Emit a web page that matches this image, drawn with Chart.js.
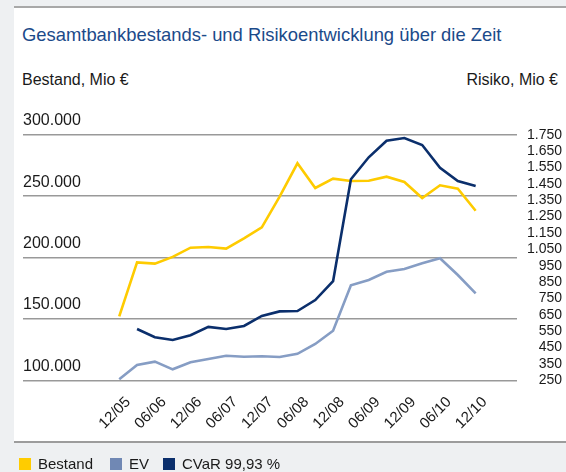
<!DOCTYPE html>
<html>
<head>
<meta charset="utf-8">
<script src="https://cdn.jsdelivr.net/npm/chart.js@4/dist/chart.umd.min.js"></script>
<style>
  html, body { margin: 0; padding: 0; }
  body { width: 566px; height: 472px; background: #eef0f2; position: relative; overflow: hidden;
         font-family: 'Liberation Sans', Arial, sans-serif; }
  #panel { position: absolute; left: 14px; top: 6px; width: 552px; height: 433px; background: #ffffff;
           border-top: 2px solid #a8a8a8; border-bottom: 2px solid #9c9c9c; }
  .txt { position: absolute; line-height: 1; white-space: nowrap; }
  #title { left: 22px; top: 26px; font-size: 18.4px; color: #1b4a8a; }
  #subL { left: 22px; top: 72px; font-size: 16px; color: #1a1a1a; }
  #subR { right: 8px; top: 72px; font-size: 16px; color: #1a1a1a; }
  .leg { position: absolute; top: 456px; height: 15px; display: flex; align-items: center; font-size: 15px; color: #1a1a1a; line-height: 1; }
  .leg span.box { display: inline-block; width: 12px; height: 12px; margin-right: 7px; }
  #chartWrap { position: absolute; left: 0; top: 0; width: 566px; height: 472px; }
</style>
</head>
<body>
<div id="panel"></div>
<div class="txt" id="title">Gesamtbankbestands- und Risikoentwicklung über die Zeit</div>
<div class="txt" id="subL">Bestand, Mio €</div>
<div class="txt" id="subR">Risiko, Mio €</div>
<div id="chartWrap"><canvas id="c" width="566" height="472"></canvas></div>
<div class="leg" style="left:19px"><span class="box" style="background:#ffcc00"></span>Bestand</div>
<div class="leg" style="left:110px"><span class="box" style="background:#7088b4"></span>EV</div>
<div class="leg" style="left:163px"><span class="box" style="background:#0b2f6c"></span>CVaR 99,93 %</div>
<script>
// ---- data ----
const quarters = ['12/05','03/06','06/06','09/06','12/06','03/07','06/07','09/07','12/07','03/08','06/08',
                  '09/08','12/08','03/09','06/09','09/09','12/09','03/10','06/10','09/10','12/10'];
const bestand = [152000,196000,195000,200500,208000,208500,207200,215600,224600,249500,276700,
                 256600,264200,262300,262500,265800,261500,248400,258800,256000,238100];
const ev      = [256,343,364,317,360,380,400,394,397,392,412,
                 472,553,830,863,913,930,965,995,893,781];
const cvar    = [null,563,513,496,525,576,563,582,643,671,673,
                 740,855,1478,1612,1713,1730,1687,1548,1467,1437];
const labelIdx = [0,2,4,6,8,10,12,14,16,18,20];
const leftTicks = [100000,150000,200000,250000,300000];
const rightTicks = [250,350,450,550,650,750,850,950,1050,1150,1250,1350,1450,1550,1650,1750];

function deFmt(v) {
  return String(Math.round(v)).replace(/\B(?=(\d{3})+(?!\d))/g, '.');
}
const toXY = arr => arr.map((v, i) => ({ x: i, y: v }));

Chart.defaults.font.family = "'Liberation Sans', Arial, sans-serif";
Chart.defaults.color = '#1a1a1a';

new Chart(document.getElementById('c'), {
  type: 'line',
  data: {
    datasets: [
      { label: 'CVaR 99,93 %', data: toXY(cvar), yAxisID: 'y1', borderColor: '#0b2f6c', borderWidth: 2.6,
        pointRadius: 0, tension: 0, spanGaps: false },
      { label: 'Bestand', data: toXY(bestand), yAxisID: 'y', borderColor: '#fecb00', borderWidth: 2.6,
        pointRadius: 0, tension: 0 },
      { label: 'EV', data: toXY(ev), yAxisID: 'y1', borderColor: '#869dc4', borderWidth: 2.6,
        pointRadius: 0, tension: 0 }
    ]
  },
  options: {
    responsive: false,
    animation: false,
    layout: { padding: { left: 3, right: 4, top: 134.7, bottom: 40 } },
    plugins: { legend: { display: false }, tooltip: { enabled: false }, title: { display: false } },
    scales: {
      x: {
        type: 'linear', min: -5.4, max: 22.32,
        grid: { display: false }, border: { display: false },
        afterBuildTicks: s => { s.ticks = labelIdx.map(v => ({ value: v })); },
        afterFit: s => { s.height = 51.7; },
        ticks: { autoSkip: false, minRotation: 45, maxRotation: 45, padding: 5, labelOffset: 9,
                 font: { size: 15 }, color: '#1a1a1a',
                 callback: v => quarters[v] }
      },
      y: {
        position: 'left', min: 100000, max: 300000,
        afterBuildTicks: s => { s.ticks = leftTicks.map(v => ({ value: v })); },
        afterFit: s => { s.width = 20; },
        grid: { color: '#999999', lineWidth: 1.4, drawTicks: false },
        border: { display: false },
        ticks: { mirror: true, padding: 0, autoSkip: false, font: { size: 16, lineHeight: 1.75 }, color: '#1a1a1a',
                 callback: v => [deFmt(v), ''] }
      },
      y1: {
        position: 'right', min: 250, max: 1750,
        afterBuildTicks: s => { s.ticks = rightTicks.map(v => ({ value: v })); },
        afterFit: s => { s.width = 45; },
        grid: { display: false, drawTicks: false },
        border: { display: false },
        ticks: { crossAlign: 'far', padding: 10, autoSkip: false, font: { size: 14 }, color: '#1a1a1a',
                 callback: v => deFmt(v) }
      }
    }
  }
});
</script>
</body>
</html>
